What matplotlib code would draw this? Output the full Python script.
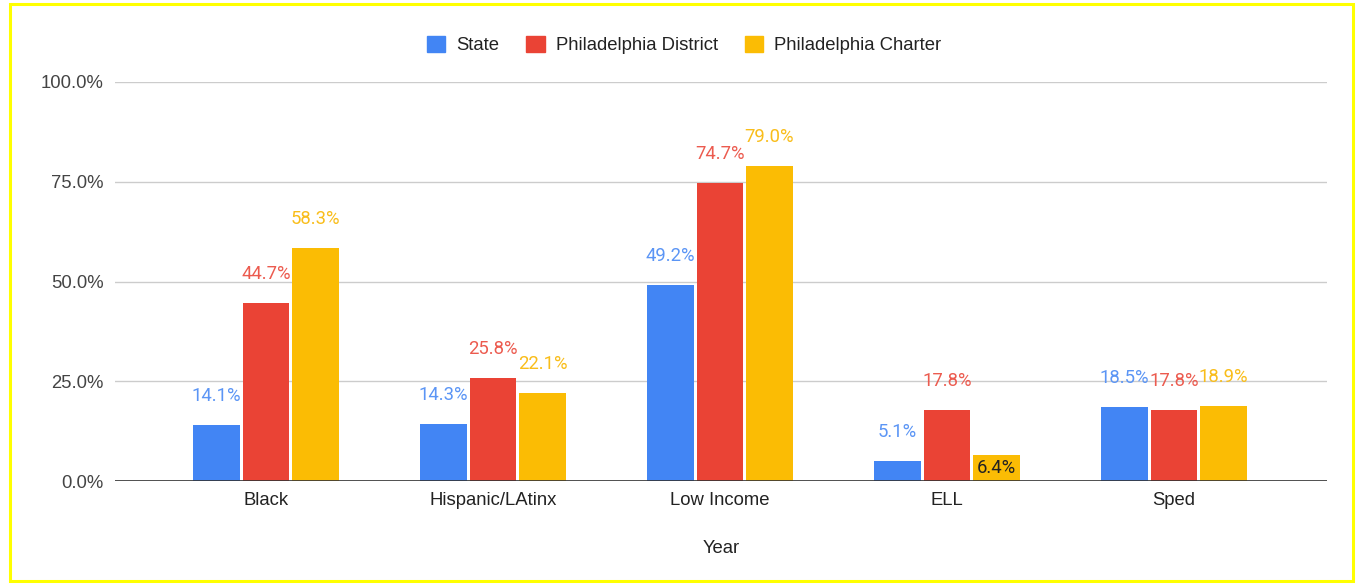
import matplotlib
matplotlib.use("Agg")
import matplotlib.pyplot as plt
from matplotlib.patches import Rectangle
import numpy as np

categories = ["Black", "Hispanic/LAtinx", "Low Income", "ELL", "Sped"]
series_names = ["State", "Philadelphia District", "Philadelphia Charter"]
state = [14.1, 14.3, 49.2, 5.1, 18.5]
district = [44.7, 25.8, 74.7, 17.8, 17.8]
charter = [58.3, 22.1, 79.0, 6.4, 18.9]
y_ticks = [0, 25, 50, 75, 100]

colors = ["#4285F4", "#EA4335", "#FBBC04"]
label_colors = ["#5B95F5", "#EC5B4F", "#F9BD1A"]
FS = 13.3

W, H = 1357, 586
fig = plt.figure(figsize=(W / 100, H / 100), dpi=100)
fig.patch.set_facecolor("white")
# yellow border
fig.add_artist(Rectangle((9.5 / W, 5.5 / H), (W - 13.5) / W, (H - 9) / H,
                         transform=fig.transFigure, fill=False,
                         edgecolor="#FFFF00", linewidth=2.2))

ax = fig.add_axes([115 / W, 1 - 481 / H, (1327 - 115) / W, (481 - 82) / H])
x = np.arange(len(categories))
off = 0.218
width = 0.205
series = [state, district, charter]
for i, (vals, c, lc) in enumerate(zip(series, colors, label_colors)):
    xs = x + (i - 1) * off
    ax.bar(xs, vals, width=width, color=c, zorder=3)
    for xi, v in zip(xs, vals):
        txt = f"{v:.1f}%"
        if i == 2 and v < 10:
            ax.text(xi, v / 2, txt, ha="center", va="center", color="#222222",
                    fontsize=FS, family="Roboto", zorder=4)
        else:
            ax.annotate(txt, (xi, v), xytext=(0, 29), textcoords="offset pixels",
                        ha="center", va="center", color=lc, fontsize=FS,
                        family="Roboto", zorder=4)

ax.set_xlim(-0.665, 4.674)
ax.set_ylim(0, 100)
ax.set_yticks(y_ticks)
ax.set_yticklabels([f"{t:.1f}%" for t in y_ticks], family="Liberation Sans",
                   fontsize=FS, color="#444444")
ax.set_xticks(x)
ax.set_xticklabels(categories, family="Liberation Sans", fontsize=FS, color="#222222")
ax.tick_params(length=0, pad=8)
ax.tick_params(axis="y", pad=8)
ax.grid(axis="y", color="#CCCCCC", linewidth=1, zorder=0)
ax.axhline(0, color="#333333", linewidth=1.2, zorder=5)
for s in ax.spines.values():
    s.set_visible(False)
ax.set_xlabel("Year", family="Liberation Sans", fontsize=FS, color="#222222", labelpad=22)

handles = [Rectangle((0, 0), 1, 1, color=c) for c in colors]
leg = fig.legend(handles, series_names, loc="center", bbox_to_anchor=(684 / W, 1 - 45 / H),
                 ncol=3, frameon=False, prop={"family": "Liberation Sans", "size": FS},
                 handlelength=1.0, handleheight=1.0, columnspacing=1.45, handletextpad=0.6)
for t in leg.get_texts():
    t.set_color("#222222")

fig.savefig("out.png", dpi=100, facecolor="white")
